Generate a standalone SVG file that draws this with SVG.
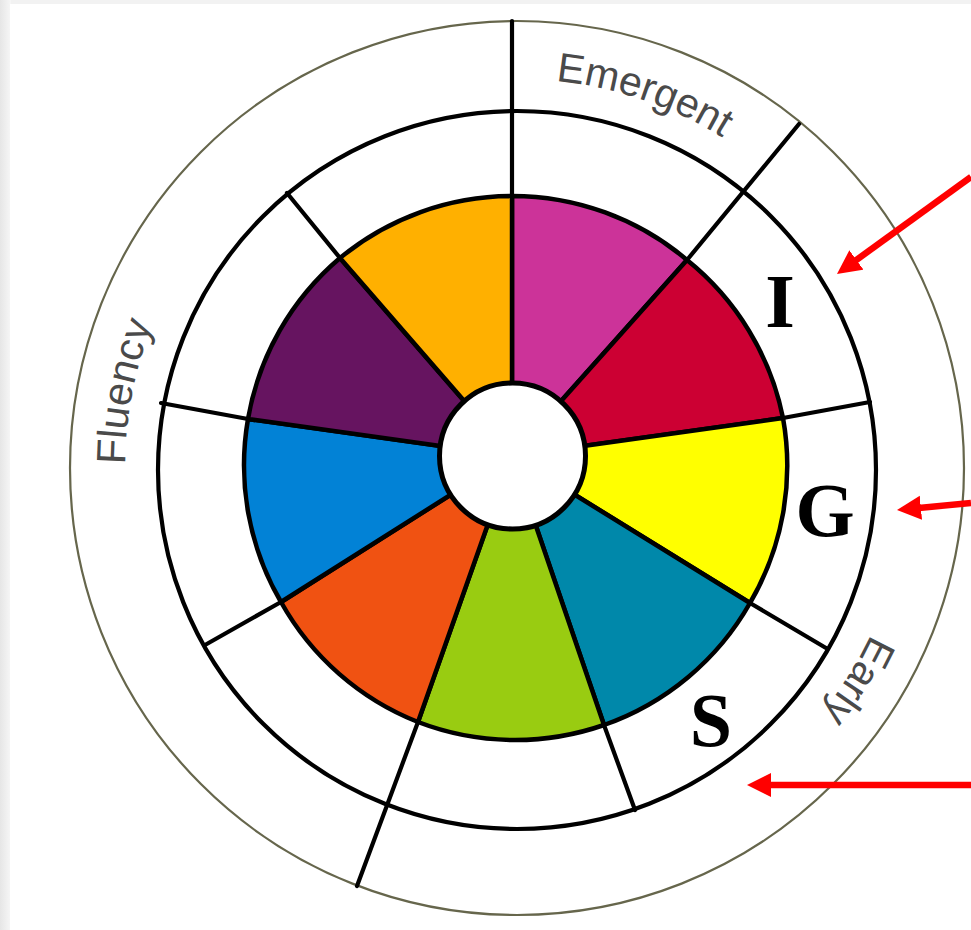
<svg xmlns="http://www.w3.org/2000/svg" width="971" height="930" viewBox="0 0 971 930">
<defs>
<style>
.wedge{stroke:#000;stroke-width:4.5;stroke-linejoin:round}
.ln{stroke:#000;stroke-width:4.2;stroke-linecap:round;fill:none}
.ring{fill:none;stroke:#000;stroke-width:4.2}
.lab{font-family:"Liberation Serif","Times New Roman",serif;font-weight:bold;font-size:76px;fill:#000;text-anchor:middle}
.arc{font-family:"Liberation Sans",Arial,sans-serif;font-size:41px;fill:#4a4a4a;text-anchor:middle}
.arrow{stroke:#f00;stroke-width:6.5;fill:none}
</style>
<linearGradient id="lg" x1="0" y1="0" x2="1" y2="0">
<stop offset="0" stop-color="#e6e6e6"/><stop offset="1" stop-color="#f7f7f7"/>
</linearGradient>
<marker id="ah" markerUnits="userSpaceOnUse" markerWidth="26" markerHeight="26" refX="2" refY="12" orient="auto">
<path d="M0,0 L24,12 L0,24 Z" fill="#f00"/>
</marker>
<path id="pEm" d="M260.8,175.3 A389,389 0 0 1 898.6,392.5"/>
<path id="pEa" d="M862.2,284.4 A391,391 0 0 1 503.4,858.8"/>
<path id="pFl" d="M259.8,763.8 A392,392 0 0 1 389.4,97.4"/>
</defs>
<rect x="0" y="0" width="971" height="930" fill="#f2f2f2"/>
<rect x="0" y="0" width="11" height="930" fill="url(#lg)"/>
<rect x="10" y="4" width="961" height="926" fill="#fff"/>

<g id="outer-ring">
<circle cx="517" cy="468" r="447" fill="none" stroke="#66664c" stroke-width="2.2"/>
</g>
<g id="middle-ring">
<circle class="ring" cx="517" cy="470" r="359"/>
</g>

<g id="wheel">
<path id="seg-magenta" class="wedge" fill="#cc3399" d="M512,456 L512,196 A271,271 0 0 1 687,260 Z"/>
<path id="seg-crimson" class="wedge" fill="#cc0033" d="M512,456 L687,260 A271,271 0 0 1 783,418 Z"/>
<path id="seg-yellow" class="wedge" fill="#ffff00" d="M512,456 L783,418 A271,271 0 0 1 750,603 Z"/>
<path id="seg-teal" class="wedge" fill="#0088aa" d="M512,456 L750,603 A271,271 0 0 1 604,725 Z"/>
<path id="seg-green" class="wedge" fill="#99cc11" d="M512,456 L604,725 A271,271 0 0 1 418,722 Z"/>
<path id="seg-orange" class="wedge" fill="#f05212" d="M512,456 L418,722 A271,271 0 0 1 281,602 Z"/>
<path id="seg-blue" class="wedge" fill="#0282d6" d="M512,456 L281,602 A271,271 0 0 1 248,419 Z"/>
<path id="seg-purple" class="wedge" fill="#661460" d="M512,456 L248,419 A271,271 0 0 1 340,258 Z"/>
<path id="seg-amber" class="wedge" fill="#ffb000" d="M512,456 L340,258 A271,271 0 0 1 512,196 Z"/>
<circle id="hub" cx="512.5" cy="456" r="73" fill="#fff" stroke="#000" stroke-width="5"/>
</g>

<g id="connectors">
<line class="ln" x1="512" y1="196" x2="512" y2="21"/>
<line class="ln" x1="687" y1="260" x2="799" y2="124"/>
<line class="ln" x1="783" y1="418" x2="870" y2="402"/>
<line class="ln" x1="750" y1="603" x2="826" y2="648"/>
<line class="ln" x1="604" y1="725" x2="635" y2="810"/>
<line class="ln" x1="418" y1="722" x2="357" y2="886"/>
<line class="ln" x1="281" y1="602" x2="205" y2="645"/>
<line class="ln" x1="248" y1="419" x2="161" y2="403"/>
<line class="ln" x1="340" y1="258" x2="287" y2="193"/>
<line class="arrow" x1="971" y1="177" x2="854.8" y2="261.1" marker-end="url(#ah)"/>
<line class="arrow" x1="971" y1="503" x2="918.9" y2="507.9" marker-end="url(#ah)"/>
<line class="arrow" x1="971" y1="785" x2="769" y2="785" marker-end="url(#ah)"/>
</g>

<g id="label-emergent"><text class="arc"><textPath href="#pEm" startOffset="50%">Emergent</textPath></text></g>
<g id="label-early"><text class="arc"><textPath href="#pEa" startOffset="50%">Early</textPath></text></g>
<g id="label-fluency"><text class="arc"><textPath href="#pFl" startOffset="50%">Fluency</textPath></text></g>

<g id="label-I"><text class="lab" x="780" y="327">I</text></g>
<g id="label-G"><text class="lab" x="825" y="536">G</text></g>
<g id="label-S"><text class="lab" x="711" y="746">S</text></g>
</svg>
